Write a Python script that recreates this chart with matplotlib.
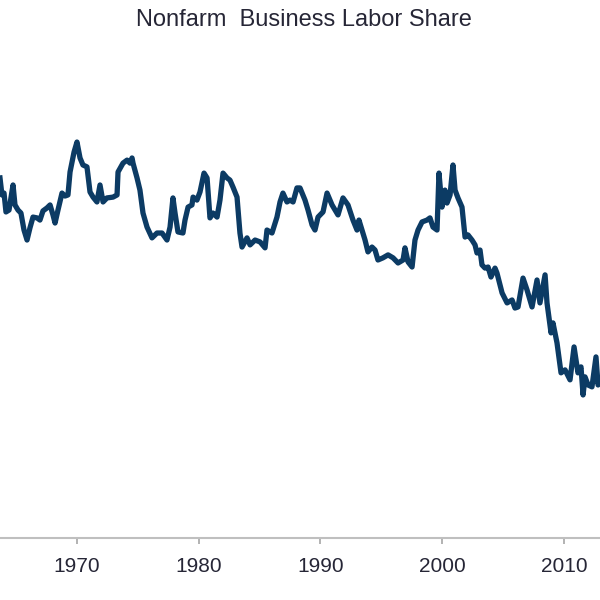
import matplotlib
matplotlib.use('Agg')
import matplotlib.pyplot as plt

# labor share index (decimal years)
years = [1963.70, 1963.86, 1964.03, 1964.19, 1964.44, 1964.77, 1964.93, 1965.18, 1965.42, 1965.67,
         1965.92, 1966.16, 1966.41, 1966.74, 1966.98, 1967.23, 1967.56, 1967.81, 1968.05, 1968.22,
         1968.46, 1968.79, 1969.04, 1969.28, 1969.45, 1969.78, 1970.02, 1970.27, 1970.51, 1970.84,
         1971.09, 1971.34, 1971.66, 1971.91, 1972.16, 1972.48, 1972.98, 1973.31, 1973.39, 1973.80,
         1974.13, 1974.37, 1974.54, 1974.62, 1974.95, 1975.19, 1975.44, 1975.77, 1976.18, 1976.59,
         1977.00, 1977.41, 1977.66, 1977.90, 1978.07, 1978.31, 1978.72, 1978.89, 1979.14, 1979.46,
         1979.55, 1979.87, 1980.12, 1980.45, 1980.70, 1980.94, 1981.19, 1981.52, 1981.76, 1982.01,
         1982.34, 1982.58, 1982.83, 1983.16, 1983.40, 1983.57, 1983.98, 1984.23, 1984.64, 1985.05,
         1985.46, 1985.62, 1986.03, 1986.44, 1986.69, 1986.93, 1987.26, 1987.51, 1987.76, 1988.08,
         1988.33, 1988.74, 1988.99, 1989.32, 1989.56, 1989.81, 1990.22, 1990.55, 1990.96, 1991.45,
         1991.86, 1992.27, 1992.68, 1993.01, 1993.17, 1993.42, 1993.67, 1993.91, 1994.24, 1994.49,
         1994.73, 1995.14, 1995.56, 1995.97, 1996.38, 1996.79, 1996.95, 1997.20, 1997.53, 1997.77,
         1998.02, 1998.35, 1998.76, 1999.00, 1999.25, 1999.58, 1999.74, 1999.99, 2000.23, 2000.40,
         2000.65, 2000.89, 2001.06, 2001.30, 2001.63, 2001.88, 2002.12, 2002.45, 2002.70, 2002.86,
         2003.11, 2003.27, 2003.52, 2003.77, 2004.01, 2004.34, 2004.50, 2004.92, 2005.33, 2005.74,
         2005.98, 2006.23, 2006.64, 2006.97, 2007.38, 2007.79, 2008.03, 2008.45, 2008.61, 2008.94,
         2009.10, 2009.43, 2009.76, 2010.09, 2010.50, 2010.83, 2011.15, 2011.40, 2011.57, 2011.73,
         2011.98, 2012.30, 2012.63, 2012.80, 2012.96]

share = [104.15, 103.52, 103.59, 102.89, 102.96, 103.89, 103.15, 102.96, 102.85, 102.22,
         101.85, 102.30, 102.70, 102.67, 102.59, 102.93, 103.04, 103.15, 102.78, 102.48,
         102.96, 103.59, 103.48, 103.52, 104.37, 105.11, 105.48, 104.89, 104.63, 104.56,
         103.63, 103.44, 103.26, 103.89, 103.26, 103.41, 103.44, 103.52, 104.37, 104.70,
         104.81, 104.70, 104.89, 104.70, 104.15, 103.70, 102.85, 102.33, 101.93, 102.11,
         102.11, 101.85, 102.33, 103.41, 102.85, 102.15, 102.11, 102.59, 103.07, 103.15,
         103.44, 103.33, 103.63, 104.33, 104.15, 102.67, 102.85, 102.70, 103.33, 104.33,
         104.15, 104.07, 103.81, 103.44, 102.11, 101.59, 101.93, 101.67, 101.85, 101.78,
         101.56, 102.22, 102.11, 102.70, 103.26, 103.59, 103.26, 103.33, 103.26, 103.78,
         103.78, 103.33, 102.96, 102.41, 102.22, 102.70, 102.89, 103.59, 103.15, 102.78,
         103.41, 103.15, 102.59, 102.22, 102.59, 102.22, 101.85, 101.41, 101.59, 101.48,
         101.11, 101.19, 101.30, 101.19, 101.00, 101.11, 101.56, 101.04, 100.85, 101.85,
         102.22, 102.52, 102.59, 102.67, 102.33, 102.22, 104.33, 103.07, 103.70, 103.22,
         103.52, 104.63, 103.70, 103.41, 103.07, 101.96, 102.04, 101.85, 101.67, 101.37,
         101.48, 100.93, 100.81, 100.85, 100.48, 100.81, 100.63, 99.89, 99.52, 99.63,
         99.33, 99.37, 100.44, 100.00, 99.37, 100.37, 99.52, 100.56, 99.52, 98.41,
         98.78, 98.04, 96.93, 97.04, 96.67, 97.89, 96.93, 97.15, 96.11, 96.78,
         96.48, 96.41, 97.52, 96.48, 96.67]

tick_years = [1970, 1980, 1990, 2000, 2010]
title = 'Nonfarm  Business Labor Share'

plt.rcParams['font.family'] = ['Liberation Sans', 'DejaVu Sans']

fig = plt.figure(figsize=(6, 6), dpi=100)
ax = fig.add_axes([0.0, 0.1033, 1.0, 0.83])

ax.plot(years, share, color='#0c3b64', linewidth=3.8, solid_joinstyle='round')

ax.set_xlim(1963.70, 2012.96)
ax.set_ylim(90.81, 109.26)

for s in ['top', 'left', 'right']:
    ax.spines[s].set_visible(False)
ax.spines['bottom'].set_color('#bfbfbf')
ax.spines['bottom'].set_linewidth(1.5)

ax.set_yticks([])
ax.set_xticks(tick_years)
ax.set_xticklabels([str(y) for y in tick_years])
ax.tick_params(axis='x', length=4.5, width=1.2, color='#a6a6a6', direction='out',
               labelsize=15, labelcolor='#262636', pad=9)

fig.text(0.507, 1 - 20 / 600, title, ha='center', va='center', fontsize=17, color='#262636')

fig.savefig('out.png', dpi=100)
